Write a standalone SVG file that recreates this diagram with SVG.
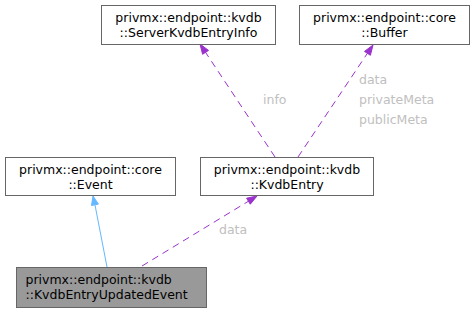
<svg xmlns="http://www.w3.org/2000/svg" width="475" height="312" viewBox="0 0 475 312">
<style>
.box{fill:#ffffff;stroke:#666666;stroke-width:1}
.hl{fill:#999999;stroke:#666666;stroke-width:1}
text{font-family:"DejaVu Sans","Liberation Sans",sans-serif;font-size:12.5px;fill:#000000}
.c{text-anchor:middle}
.lbl{fill:#c0c0c0;text-anchor:start}
.use{stroke:#9a32cd;stroke-width:1;stroke-dasharray:7,5;fill:none}
.usehead{fill:#9a32cd;stroke:#9a32cd}
.inh{stroke:#63b8ff;stroke-width:1;fill:none}
.inhhead{fill:#63b8ff;stroke:#63b8ff}
</style>
<rect width="475" height="312" fill="#ffffff"/>
<g id="edges">
<line class="inh" x1="107" y1="267" x2="95" y2="205"/>
<polygon class="inhhead" points="93,196 98.4,204.1 91.5,205.5"/>
<line class="use" x1="142" y1="266" x2="248.5" y2="201.2"/>
<polygon class="usehead" points="257,196 250.3,204.2 246.6,198.2"/>
<text class="lbl" x="219" y="234">data</text>
<line class="use" x1="275" y1="157" x2="205.5" y2="52.3"/>
<polygon class="usehead" points="200,44 208.5,50.4 202.6,54.3"/>
<text class="lbl" x="263" y="104">info</text>
<line class="use" x1="298" y1="157" x2="367.4" y2="53.3"/>
<polygon class="usehead" points="373,45 370.4,55.3 364.5,51.4"/>
<text class="lbl" x="359" y="84">data</text>
<text class="lbl" x="359" y="104">privateMeta</text>
<text class="lbl" x="359" y="124">publicMeta</text>
</g>
<g id="node_updated">
<rect class="hl" x="16.5" y="267.5" width="190" height="40"/>
<text x="25.5" y="284">privmx::endpoint::kvdb</text>
<text x="25.5" y="299">::KvdbEntryUpdatedEvent</text>
</g>
<g id="node_event">
<rect class="box" x="5.5" y="157.5" width="170" height="38"/>
<text class="c" x="90.5" y="174">privmx::endpoint::core</text>
<text class="c" x="90.5" y="189">::Event</text>
</g>
<g id="node_kvdbentry">
<rect class="box" x="200.5" y="157.5" width="173" height="38"/>
<text class="c" x="287" y="174">privmx::endpoint::kvdb</text>
<text class="c" x="287" y="189">::KvdbEntry</text>
</g>
<g id="node_serverinfo">
<rect class="box" x="101.5" y="5.5" width="174" height="39"/>
<text class="c" x="188.5" y="22">privmx::endpoint::kvdb</text>
<text class="c" x="188.5" y="37">::ServerKvdbEntryInfo</text>
</g>
<g id="node_buffer">
<rect class="box" x="299.5" y="5.5" width="170" height="39"/>
<text class="c" x="384.5" y="22">privmx::endpoint::core</text>
<text class="c" x="384.5" y="37">::Buffer</text>
</g>
</svg>
